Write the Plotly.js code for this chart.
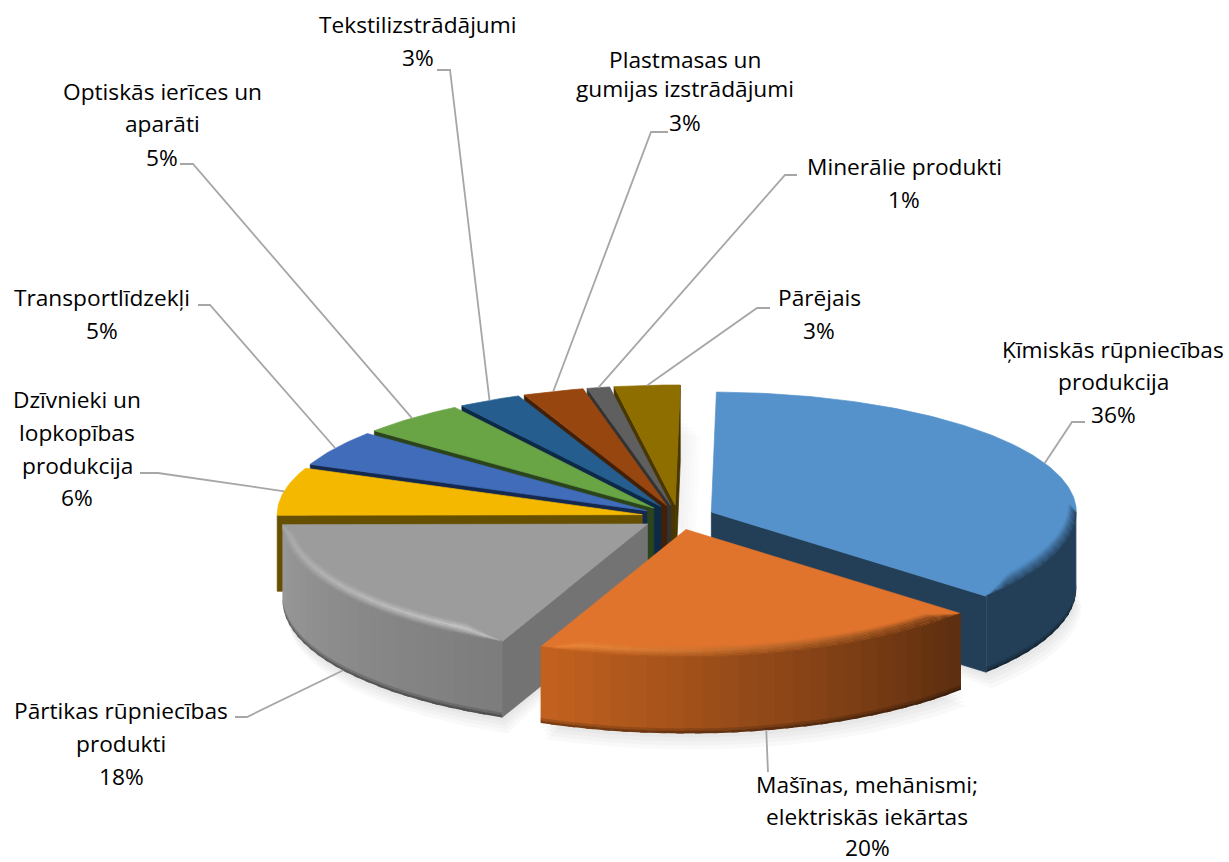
<!DOCTYPE html>
<html>
<head>
<meta charset="utf-8">
<script src="https://cdn.plot.ly/plotly-3.0.1.min.js"></script>
<style>html,body{margin:0;padding:0;background:#fff}</style>
</head>
<body>
<div id="chart" style="width:1229px;height:862px"></div>
<script>
// ---------- data ----------
const categories = ["Ķīmiskās rūpniecības produkcija","Mašīnas, mehānismi; elektriskās iekārtas","Pārtikas rūpniecības produkti","Dzīvnieki un lopkopības produkcija","Transportlīdzekļi","Optiskās ierīces un aparāti","Tekstilizstrādājumi","Plastmasas un gumijas izstrādājumi","Minerālie produkti","Pārējais"];
const values = [36.2,20.1,18.4,6.4,4.8,4.7,2.8,2.7,1.0,2.9];
const labelLines = [
  ["Ķīmiskās rūpniecības","produkcija"],
  ["Mašīnas, mehānismi;","elektriskās iekārtas"],
  ["Pārtikas rūpniecības","produkti"],
  ["Dzīvnieki un","lopkopības","produkcija"],
  ["Transportlīdzekļi"],
  ["Optiskās ierīces un","aparāti"],
  ["Tekstilizstrādājumi"],
  ["Plastmasas un","gumijas izstrādājumi"],
  ["Minerālie produkti"],
  ["Pārējais"]
];
// ---------- styles & layout ----------
const topColors  = ["#5592CB","#E0742D","#9C9C9C","#F4B800","#416CBA","#69A445","#255E8E","#984610","#5F5F5F","#8F6E00"];
const wallColors = ["#233F57","#5C2E10","#737373","#665000","#15294F","#2B441C","#0C2A47","#421F07","#333333","#483700"];
const sideStart  = ["#233F57","#5C2E10","#7C7C7C","#665000","#15294F","#2B441C","#0C2A47","#421F07","#333333","#483700"];
const sideEnd    = ["#233F57","#C4621F","#9A9A9A","#665000","#15294F","#2B441C","#0C2A47","#421F07","#333333","#483700"];
const hiStart    = ["#3B6690","#7E4218","#C8C8C8","#665000","#15294F","#2B441C","#0C2A47","#421F07","#333333","#483700"];
const hiEnd      = ["#3B6690","#F28C3C","#A8A8A8","#665000","#15294F","#2B441C","#0C2A47","#421F07","#333333","#483700"];
const drawOrder  = [9,8,7,6,5,4,3,0,2,1];
const labelX     = [1113,867,121,77,102,162,418,685,904,819];
const labelY     = [[349,381,414],[784,816,847],[710,743,776],[399,432,465,497],[297,330],[91,123,157],[24,57],[59,88,122],[166,199],[297,330]];
const elbowA     = [[1072,422],[768,768],[247,717],[158,473],[210,305],[193,164],[450,70],[651,132],[785,175],[757,308]];
const elbowB     = [[1085,422],[768,772],[235,717],[140,473],[198,305],[180,164],[437,70],[668,132],[797,175],[770,308]];
const cx=678, cy=517, rx=365, ryBack=120, ryFront=128, depth=76, pull=0.10, rotation=0.8;

// ---------- geometry from values ----------
const rad=d=>d*Math.PI/180;
const total=values.reduce((a,b)=>a+b,0);
let acc=rotation; const starts=[],ends=[],mids=[];
values.forEach(v=>{const s=acc;acc+=v/total*360;starts.push(s);ends.push(acc);mids.push((s+acc)/2);});
const ry=t=>Math.cos(rad(t))>0?ryBack:ryFront;
function apex(i){const m=mids[i];return [cx+rx*pull*Math.sin(rad(m)),cy-ry(m)*pull*Math.cos(rad(m))];}
function pt(i,t,r,z){const a=apex(i);return [a[0]+rx*r*Math.sin(rad(t)),a[1]-ry(t)*r*Math.cos(rad(t))+(z||0)];}
const hex=c=>[1,3,5].map(k=>parseInt(c.substr(k,2),16));
function mix(a,b,f){const A=hex(a),B=hex(b);const v=A.map((x,k)=>Math.round(x+(B[k]-x)*f));return "#"+v.map(x=>x.toString(16).padStart(2,"0")).join("");}
const traces=[];
function poly(pts,color,name,lw){
  const xs=pts.map(p=>p[0]).concat(pts[0][0]), ys=pts.map(p=>p[1]).concat(pts[0][1]);
  const isRgba=color.startsWith("rgba");
  traces.push({type:"scatter",mode:"lines",x:xs,y:ys,fill:"toself",fillcolor:color,
    line:{color:isRgba?"rgba(0,0,0,0)":color,width:lw===undefined?0.7:lw},
    hoverinfo:name?"text":"skip",text:name||"",showlegend:false});
}
function arc(i,t0,t1,r,z,step){const out=[];const n=Math.max(1,Math.ceil(Math.abs(t1-t0)/(step||1)));for(let k=0;k<=n;k++){out.push(pt(i,t0+(t1-t0)*k/n,r,z));}return out;}

// soft shadows
[0,1,2].forEach(i=>{
  const t0=Math.max(starts[i],90),t1=Math.min(ends[i],270);
  [16,12,8,4].forEach(off=>{
    poly([pt(i,t0,0,depth)].concat(arc(i,t0,t1,1,depth+off).map(p=>[p[0]+off/3,p[1]])),"rgba(0,0,0,0.022)",null,0);
  });
});
[4,8,12,16,20].forEach(off=>{
  const i=9;
  poly([pt(i,starts[i],0,off+30)].concat(arc(i,starts[i],ends[i],1,off+30)).map(p=>[p[0]+off,p[1]]),"rgba(0,0,0,0.012)",null,0);
});

// slices
const RINGS=8;
drawOrder.forEach(i=>{
  const s=starts[i],e=ends[i];
  // cut walls
  if(Math.sin(rad(s))<0) poly([pt(i,s,0),pt(i,s,1),pt(i,s,1,depth),pt(i,s,0,depth)],wallColors[i]);
  if(Math.sin(rad(e))>0) poly([pt(i,e,0),pt(i,e,1),pt(i,e,1,depth),pt(i,e,0,depth)],wallColors[i]);
  // top face
  poly([pt(i,s,0)].concat(arc(i,s,e,1,0)),topColors[i],categories[i]+": "+Math.round(values[i])+"%");
  // outer wall with gradient, bevel and dark foot (strips overlap to avoid seams)
  const t0=Math.max(s,90),t1=Math.min(e,270);
  if(t1>t0){
    const n=Math.ceil((t1-t0)/3);
    const w=t=>Math.min(1,Math.max(0,(t-s)/7),Math.max(0,(e-t)/7));
    const sCol=f=>mix(sideStart[i],sideEnd[i],f), hCol=f=>mix(hiStart[i],hiEnd[i],f);
    for(let k=0;k<n;k++){
      const a=t0+(t1-t0)*k/n,b=Math.min(t1,t0+(t1-t0)*(k+1.4)/n),f=(t0+(t1-t0)*(k+0.5)/n-s)/(e-s);
      const sc=sCol(f);
      poly(arc(i,a,b,1,-1,0.5).concat(arc(i,b,a,1,depth-4,0.5)),sc,null,0);
      poly(arc(i,a,b,1,depth-5,0.5).concat(arc(i,b,a,1,depth-2,0.5)),mix(sc,"#000000",0.16),null,0);
      poly(arc(i,a,b,1,depth-2.5,0.5).concat(arc(i,b,a,1,depth,0.5)),mix(sc,"#000000",0.36),null,0);
    }
    const band=(t,u)=>pt(i,t,1-0.022*u*w(t),-9*u*w(t));
    for(let k=0;k<n;k++){
      const a=t0+(t1-t0)*k/n,b=Math.min(t1,t0+(t1-t0)*(k+1.4)/n),f=(t0+(t1-t0)*(k+0.5)/n-s)/(e-s);
      const sc=sCol(f),hc=hCol(f);
      for(let r=0;r<RINGS;r++){
        const u0=1-r/RINGS,u1=1-(r+1)/RINGS,um=(u0+u1)/2;
        const c=um>0.55?mix(topColors[i],hc,(1-um)/0.45):mix(hc,sc,(0.55-um)/0.55);
        const A=[],B=[];
        for(let q=0;q<=6;q++){const t=a+(b-a)*q/6;A.push(band(t,u0));B.unshift(band(t,u1));}
        poly(A.concat(B),c,null,0);
      }
    }
  }
});

// leader lines
values.forEach((v,i)=>{
  const t=mids[i], z=(t>90&&t<270)?depth:0;
  const p=pt(i,t,1,z);
  traces.push({type:"scatter",mode:"lines",x:[p[0],elbowA[i][0],elbowB[i][0]],y:[p[1],elbowA[i][1],elbowB[i][1]],
    line:{color:"#A6A6A6",width:1.8},hoverinfo:"skip",showlegend:false});
});

// labels
const annotations=[];
values.forEach((v,i)=>{
  labelLines[i].concat(Math.round(v)+"%").forEach((txt,k)=>{
    annotations.push({x:labelX[i],y:labelY[i][k],xref:"x",yref:"y",text:txt,showarrow:false,xanchor:"center",yanchor:"middle",
      font:{family:"'Open Sans', sans-serif",size:22.7,color:"#000"}});
  });
});

Plotly.newPlot("chart",traces,{
  width:1229,height:862,margin:{l:0,r:0,t:0,b:0},paper_bgcolor:"#fff",plot_bgcolor:"#fff",showlegend:false,
  xaxis:{range:[0,1229],visible:false,fixedrange:true},
  yaxis:{range:[862,0],visible:false,fixedrange:true},
  annotations:annotations
},{displayModeBar:false,staticPlot:true});
</script>
</body>
</html>
